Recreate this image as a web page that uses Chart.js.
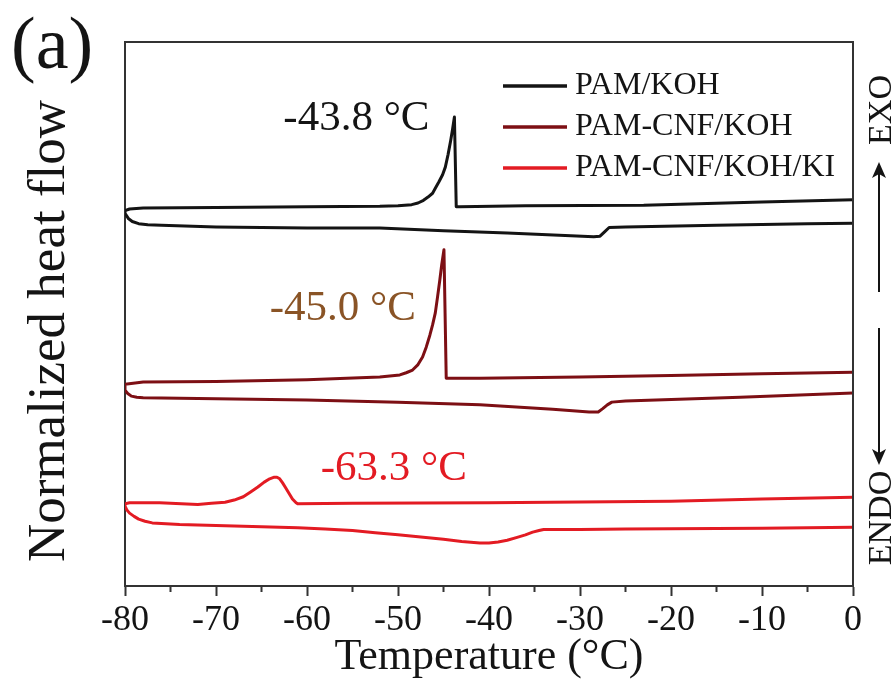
<!DOCTYPE html>
<html>
<head>
<meta charset="utf-8">
<script src="https://cdn.jsdelivr.net/npm/chart.js@4.4.1/dist/chart.umd.min.js"></script>
<style>
  html, body { margin: 0; padding: 0; background: #fff; }
  #wrap { width: 896px; height: 684px; }
</style>
</head>
<body>
<div id="wrap"><canvas id="dsc" width="896" height="684"></canvas></div>
<script>
// sample names
const samples = ["PAM/KOH", "PAM-CNF/KOH", "PAM-CNF/KOH/KI"];

// PAM/KOH : cooling run (0 -> -80) then heating run (-80 -> 0)
const kohCoolT = [0, -10, -23, -36, -43.2, -43.6, -43.8, -44.0, -44.2, -44.5, -44.8, -45.1, -45.5, -45.9, -46.2, -46.7, -47.2, -47.8, -48.5, -50, -52, -60, -70, -78, -79.5, -80];
const kohCoolH = [71.0, 70.6, 70.0, 69.9, 69.7, 69.7, 86.2, 84.0, 82.0, 79.3, 77.0, 75.6, 74.3, 73.1, 72.2, 71.5, 70.9, 70.4, 70.1, 69.9, 69.8, 69.7, 69.6, 69.5, 69.3, 69.0];
const kohHeatT = [-80, -79.8, -79.6, -79.2, -78.5, -77.5, -76, -70, -60, -52, -45, -38, -31, -28.5, -27.8, -27.3, -26.8, -25, -15, -5, 0];
const kohHeatH = [68.5, 68.0, 67.5, 67.0, 66.6, 66.4, 66.3, 66.0, 65.8, 65.8, 65.3, 64.9, 64.4, 64.2, 64.3, 65.1, 65.9, 66.0, 66.3, 66.6, 66.7];

// PAM-CNF/KOH
const cnfCoolT = [0, -10, -20, -30, -41, -44.7, -44.95, -45.2, -45.4, -45.65, -45.9, -46.2, -46.5, -46.9, -47.3, -47.8, -48.4, -49.1, -49.8, -52, -60, -70, -78, -80];
const cnfCoolH = [39.3, 39.0, 38.7, 38.4, 38.2, 38.2, 61.8, 59.0, 56.3, 53.2, 50.2, 48.0, 46.1, 43.9, 42.1, 40.7, 39.7, 39.2, 38.8, 38.4, 37.9, 37.6, 37.5, 37.1];
const cnfHeatT = [-80, -79.7, -79.3, -78.7, -78, -70, -60, -50, -41, -33, -29, -28, -27.5, -27, -26.5, -25, -12.4, 0];
const cnfHeatH = [36.0, 35.4, 34.9, 34.7, 34.6, 34.4, 34.2, 33.8, 33.3, 32.5, 32.0, 32.0, 32.6, 33.3, 33.8, 34.0, 34.7, 35.5];

// PAM-CNF/KOH/KI
const kiCoolT = [0, -10, -20, -40, -55, -61, -61.2, -61.6, -62.0, -62.4, -62.7, -63.0, -63.3, -63.6, -64.1, -64.7, -65.4, -66.2, -67, -68, -69, -70.5, -72, -76.2, -79.5, -80];
const kiCoolH = [16.3, 16.0, 15.6, 15.3, 15.2, 15.1, 15.3, 16.0, 17.1, 18.2, 19.0, 19.7, 20.0, 20.0, 19.7, 19.1, 18.2, 17.3, 16.4, 15.8, 15.4, 15.2, 15.0, 15.3, 15.3, 15.1];
const kiHeatT = [-80, -79.8, -79.5, -79, -78.5, -77.8, -77, -74, -70, -65, -61, -58, -55, -52.5, -50, -47.5, -45, -43, -41, -40, -39, -38, -37, -36, -35.2, -34.5, -34, -30, -25, -10, 0];
const kiHeatH = [14.7, 14.0, 13.4, 12.8, 12.3, 11.9, 11.6, 11.3, 11.1, 10.9, 10.7, 10.5, 10.2, 9.8, 9.4, 9.0, 8.6, 8.2, 7.9, 7.9, 8.1, 8.4, 8.9, 9.4, 9.9, 10.2, 10.4, 10.4, 10.5, 10.6, 10.8];

// x axis ticks
const majorTicks = [-80, -70, -60, -50, -40, -30, -20, -10, 0];
const minorTicks = [-75, -65, -55, -45, -35, -25, -15, -5];

// crystallization peak labels
const peakText = ["-43.8 \u00B0C", "-45.0 \u00B0C", "-63.3 \u00B0C"];

const colors = ["#141414", "#7d0f14", "#e31b23"];
const labelColors = ["#141414", "#8a5426", "#e31b23"];
// where each peak label sits (data coords of text start / baseline)
const labelAt = [{ t: -62.6, h: 83.8 }, { t: -64.1, h: 48.9 }, { t: -58.5, h: 19.5 }];

const SERIF = '"Liberation Serif", "Times New Roman", serif';
Chart.defaults.font.family = SERIF;
Chart.defaults.color = "#141414";

function loop(ct, ch, ht, hh) {
  const pts = ct.map((t, i) => ({ x: t, y: ch[i] }));
  return pts.concat(ht.map((t, i) => ({ x: t, y: hh[i] })));
}

const runs = [
  loop(kohCoolT, kohCoolH, kohHeatT, kohHeatH),
  loop(cnfCoolT, cnfCoolH, cnfHeatT, cnfHeatH),
  loop(kiCoolT, kiCoolH, kiHeatT, kiHeatH)
];

const decor = {
  id: "decor",
  afterDraw(chart) {
    const { ctx, chartArea: a, scales: { x, y } } = chart;
    ctx.save();

    // top + right frame, minor ticks
    ctx.strokeStyle = "#333";
    ctx.lineWidth = 2;
    ctx.beginPath();
    ctx.moveTo(a.left, a.top);
    ctx.lineTo(a.right, a.top);
    ctx.lineTo(a.right, a.bottom);
    minorTicks.forEach(t => {
      const px = x.getPixelForValue(t);
      ctx.moveTo(px, a.bottom);
      ctx.lineTo(px, a.bottom + 6);
    });
    ctx.stroke();

    // y title
    ctx.fillStyle = "#141414";
    ctx.font = "53px " + SERIF;
    ctx.textAlign = "center";
    ctx.textBaseline = "middle";
    ctx.save();
    ctx.translate(50, 331);
    ctx.rotate(-Math.PI / 2);
    ctx.fillText("Normalized heat flow", 0, 0);
    ctx.restore();

    // legend
    ctx.textAlign = "left";
    ctx.font = "32px " + SERIF;
    samples.forEach((name, i) => {
      const ly = a.top + 44 + i * 41;
      ctx.strokeStyle = colors[i];
      ctx.lineWidth = 3.5;
      ctx.beginPath();
      ctx.moveTo(a.right - 350, ly);
      ctx.lineTo(a.right - 286, ly);
      ctx.stroke();
      ctx.fillStyle = "#141414";
      ctx.fillText(name, a.right - 278, ly);
    });

    // peak labels
    ctx.textBaseline = "alphabetic";
    ctx.font = "43px " + SERIF;
    peakText.forEach((txt, i) => {
      ctx.fillStyle = labelColors[i];
      ctx.fillText(txt, x.getPixelForValue(labelAt[i].t), y.getPixelForValue(labelAt[i].h));
    });

    // panel letter
    ctx.fillStyle = "#141414";
    ctx.font = "74px " + SERIF;
    ctx.fillText("(a)", 11, 68);

    // EXO / ENDO arrows
    const ax = 879;
    ctx.strokeStyle = "#141414";
    ctx.lineWidth = 2;
    ctx.beginPath();
    ctx.moveTo(ax, 292); ctx.lineTo(ax, 172);
    ctx.moveTo(ax, 328); ctx.lineTo(ax, 454);
    ctx.stroke();
    ctx.beginPath();
    ctx.moveTo(ax, 162); ctx.lineTo(ax - 7, 178); ctx.lineTo(ax, 174); ctx.lineTo(ax + 7, 178); ctx.closePath();
    ctx.moveTo(ax, 465); ctx.lineTo(ax - 7, 449); ctx.lineTo(ax, 453); ctx.lineTo(ax + 7, 449); ctx.closePath();
    ctx.fill();

    ctx.font = "34px " + SERIF;
    ctx.textAlign = "center";
    ctx.textBaseline = "middle";
    [["EXO", 110], ["ENDO", 518]].forEach(([s, cy]) => {
      ctx.save();
      ctx.translate(882, cy);
      ctx.rotate(-Math.PI / 2);
      ctx.fillText(s, 0, 0);
      ctx.restore();
    });

    ctx.restore();
  }
};

new Chart(document.getElementById("dsc"), {
  type: "scatter",
  data: {
    datasets: runs.map((pts, i) => ({
      label: samples[i],
      data: pts,
      showLine: true,
      borderColor: colors[i],
      backgroundColor: colors[i],
      borderWidth: 3,
      borderJoinStyle: "round",
      borderCapStyle: "round",
      pointRadius: 0,
      tension: 0
    }))
  },
  options: {
    responsive: false,
    animation: false,
    layout: { padding: { left: 0, top: 42, right: 43, bottom: 0 } },
    plugins: { legend: { display: false }, tooltip: { enabled: false } },
    scales: {
      x: {
        type: "linear",
        min: -80,
        max: 0,
        afterBuildTicks: s => { s.ticks = majorTicks.map(v => ({ value: v })); },
        ticks: { font: { size: 36 }, color: "#141414", padding: 3, maxRotation: 0, autoSkip: false },
        grid: { display: true, drawOnChartArea: false, drawTicks: true, tickLength: 10, tickWidth: 2, tickColor: "#333" },
        border: { display: true, color: "#333", width: 2 },
        title: { display: true, text: "Temperature (\u00B0C)", font: { size: 44 }, color: "#141414", padding: { top: 0, bottom: 0 } },
        afterFit: s => { s.height = 98; }
      },
      y: {
        min: 0,
        max: 100,
        ticks: { display: false },
        grid: { display: false, drawTicks: false },
        border: { display: true, color: "#333", width: 2 },
        title: { display: false },
        afterFit: s => { s.width = 125; }
      }
    }
  },
  plugins: [decor]
});
</script>
</body>
</html>
